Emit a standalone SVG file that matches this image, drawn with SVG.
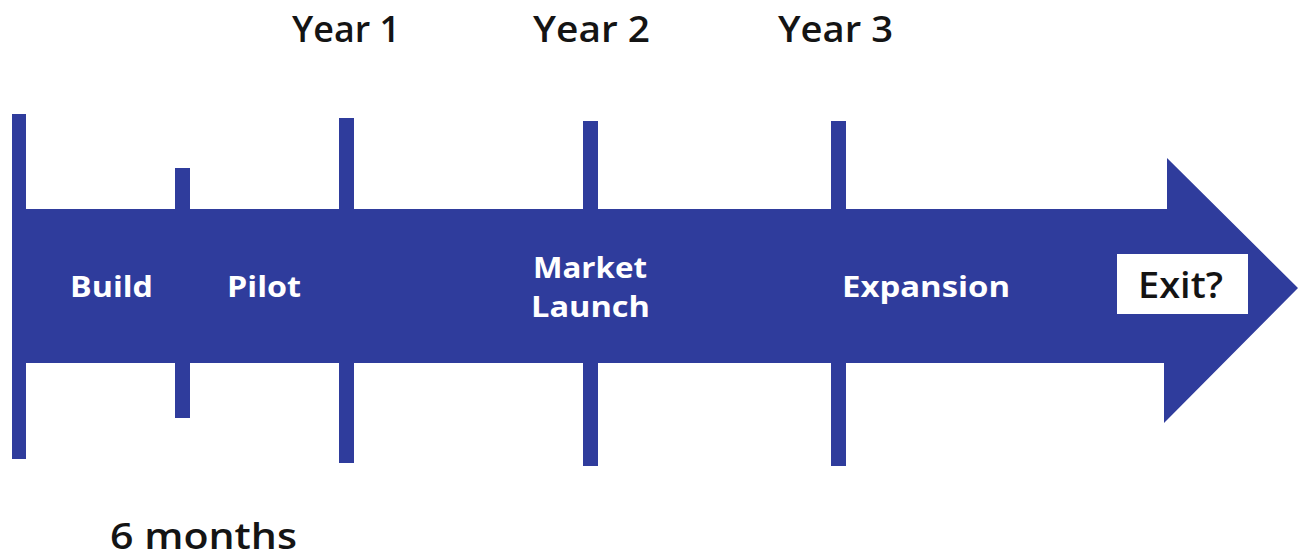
<svg xmlns="http://www.w3.org/2000/svg" width="1301" height="558" viewBox="0 0 1301 558">
  <style>
    .blue { fill: #2f3c9c; }
    .lbl { font-family: "Open Sans", "Liberation Sans", sans-serif; font-weight: 700; fill: #ffffff; font-size: 29px; }
    .head { font-family: "Open Sans", "Liberation Sans", sans-serif; font-weight: 600; fill: #141414; font-size: 36px; }
  </style>
  <rect width="1301" height="558" fill="#ffffff"/>

  <!-- main timeline arrow -->
  <g id="timeline">
    <path class="blue" d="M12,209 H1167 V158 L1298,288 L1164,423 V363 H12 Z"/>
  </g>

  <!-- milestone ticks crossing the arrow -->
  <g id="ticks">
    <rect id="tick-start" class="blue" x="12" y="114" width="14" height="345"/>
    <rect id="tick-6m" class="blue" x="175" y="168" width="15" height="250"/>
    <rect id="tick-y1" class="blue" x="339" y="118" width="15" height="345"/>
    <rect id="tick-y2" class="blue" x="583" y="121" width="15" height="345"/>
    <rect id="tick-y3" class="blue" x="831" y="121" width="15" height="345"/>
  </g>

  <!-- year headers -->
  <g id="year1"><text class="head" x="292" y="42" textLength="108" lengthAdjust="spacingAndGlyphs">Year 1</text></g>
  <g id="year2"><text class="head" x="533" y="42" textLength="117" lengthAdjust="spacingAndGlyphs">Year 2</text></g>
  <g id="year3"><text class="head" x="778" y="42" textLength="115" lengthAdjust="spacingAndGlyphs">Year 3</text></g>

  <!-- phase labels inside the arrow -->
  <g id="build"><text class="lbl" x="70" y="297" textLength="83" lengthAdjust="spacingAndGlyphs">Build</text></g>
  <g id="pilot"><text class="lbl" x="227" y="297" textLength="74" lengthAdjust="spacingAndGlyphs">Pilot</text></g>
  <g id="market-launch">
    <text class="lbl" x="533" y="278" textLength="114" lengthAdjust="spacingAndGlyphs">Market</text>
    <text class="lbl" x="531" y="317" textLength="119" lengthAdjust="spacingAndGlyphs">Launch</text>
  </g>
  <g id="expansion"><text class="lbl" x="842" y="297" textLength="168" lengthAdjust="spacingAndGlyphs">Expansion</text></g>

  <!-- exit box at the arrowhead -->
  <g id="exit">
    <rect x="1117" y="254" width="131" height="60" fill="#ffffff"/>
    <text class="head" x="1138" y="298" font-size="35" font-weight="700" textLength="85" lengthAdjust="spacingAndGlyphs">Exit?</text>
  </g>

  <!-- duration note -->
  <g id="six-months"><text class="head" x="110" y="549" font-size="32" font-weight="500" textLength="187" lengthAdjust="spacingAndGlyphs">6 months</text></g>
</svg>
